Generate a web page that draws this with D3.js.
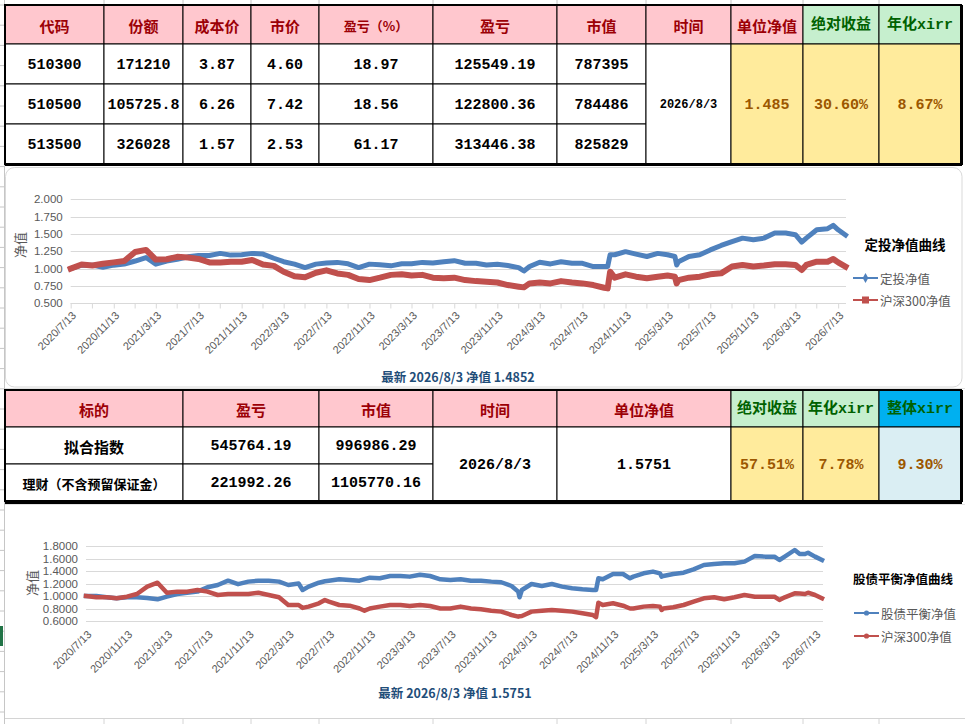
<!DOCTYPE html>
<html>
<head>
<meta charset="utf-8">
<script src="https://cdn.jsdelivr.net/npm/d3@7"></script>
<style>
  html, body { margin: 0; padding: 0; background: #fff; }
  svg { display: block; }
</style>
</head>
<body>
<div id="sheet"></div>
<script>
// ---------- table data ----------
const t1Head = ["代码", "份额", "成本价", "市价", "盈亏（%）", "盈亏", "市值", "时间", "单位净值", "绝对收益", "年化xirr"];
const t1Codes = ["510300", "510500", "513500"];
const t1Shares = ["171210", "105725.8", "326028"];
const t1Cost = ["3.87", "6.26", "1.57"];
const t1Price = ["4.60", "7.42", "2.53"];
const t1PnlPct = ["18.97", "18.56", "61.17"];
const t1Pnl = ["125549.19", "122800.36", "313446.38"];
const t1Value = ["787395", "784486", "825829"];
const t1Summary = ["1.485", "30.60%", "8.67%"];

const t2Head = ["标的", "盈亏", "市值", "时间", "单位净值", "绝对收益", "年化xirr", "整体xirr"];
const t2Names = ["拟合指数", "理财（不含预留保证金）"];
const t2Pnl = ["545764.19", "221992.26"];
const t2Value = ["996986.29", "1105770.16"];
const t2Nav = "1.5751";
const t2Summary = ["57.51%", "7.78%", "9.30%"];

const latestDate = "2026/8/3";
const latestNav1 = "1.4852";
const latestNav2 = "1.5751";

// ---------- chart data ----------
const xTickLabels = ["2020/7/13", "2020/11/13", "2021/3/13", "2021/7/13", "2021/11/13", "2022/3/13", "2022/7/13",
  "2022/11/13", "2023/3/13", "2023/7/13", "2023/11/13", "2024/3/13", "2024/7/13", "2024/11/13", "2025/3/13",
  "2025/7/13", "2025/11/13", "2026/3/13", "2026/7/13"];
const yTicks1 = [0.5, 0.75, 1.0, 1.25, 1.5, 1.75, 2.0];
const yTicks2 = [0.6, 0.8, 1.0, 1.2, 1.4, 1.6, 1.8];

const dates1 = [
  "2020/7/13", "2020/8/13", "2020/9/13", "2020/10/13", "2020/11/13", "2020/12/13",
  "2021/1/13", "2021/2/13", "2021/3/13", "2021/4/13", "2021/5/13", "2021/6/13", "2021/7/13", "2021/8/13", "2021/9/13", "2021/10/13", "2021/11/13", "2021/12/13",
  "2022/1/13", "2022/2/13", "2022/3/13", "2022/4/13", "2022/5/13", "2022/6/13", "2022/7/13", "2022/8/13", "2022/9/13", "2022/10/13", "2022/11/13", "2022/12/13",
  "2023/1/13", "2023/2/13", "2023/3/13", "2023/4/13", "2023/5/13", "2023/6/13", "2023/7/13", "2023/8/13", "2023/9/13", "2023/10/13", "2023/11/13", "2023/12/13",
  "2024/1/13", "2024/1/28", "2024/2/13", "2024/3/13", "2024/4/13", "2024/5/13", "2024/6/13", "2024/7/13", "2024/8/13", "2024/9/13", "2024/9/23", "2024/9/30", "2024/10/13", "2024/11/13", "2024/12/13",
  "2025/1/13", "2025/2/13", "2025/3/13", "2025/4/3", "2025/4/8", "2025/4/13", "2025/5/13", "2025/6/13", "2025/7/13", "2025/8/13", "2025/9/13", "2025/10/13", "2025/11/13", "2025/12/13",
  "2026/1/13", "2026/2/13", "2026/3/13", "2026/3/31", "2026/4/13", "2026/5/13", "2026/6/13", "2026/6/29", "2026/7/13", "2026/8/3"];
const dingNav1 = [
  1.00, 1.05, 1.05, 1.02, 1.05, 1.065,
  1.11, 1.16, 1.065, 1.11, 1.135, 1.17, 1.19, 1.19, 1.22, 1.195, 1.20, 1.22,
  1.21, 1.15, 1.10, 1.065, 1.015, 1.065, 1.08, 1.09, 1.07, 1.015, 1.065, 1.055,
  1.04, 1.07, 1.07, 1.09, 1.08, 1.10, 1.115, 1.077, 1.077, 1.053, 1.063, 1.044,
  1.015, 0.966, 1.03, 1.092, 1.068, 1.10, 1.077, 1.077, 1.03, 1.03, 1.03, 1.20, 1.20, 1.245, 1.21,
  1.175, 1.22, 1.20, 1.175, 1.053, 1.10, 1.175, 1.20, 1.27, 1.334, 1.39, 1.44, 1.416, 1.44,
  1.513, 1.513, 1.49, 1.382, 1.44, 1.56, 1.576, 1.624, 1.56, 1.4852];
const hs300Nav1 = [
  1.00, 1.06, 1.045, 1.07, 1.09, 1.11,
  1.24, 1.27, 1.13, 1.135, 1.17, 1.16, 1.14, 1.09, 1.09, 1.10, 1.10, 1.125,
  1.06, 1.04, 0.955, 0.89, 0.875, 0.94, 0.975, 0.93, 0.91, 0.85, 0.835, 0.87,
  0.91, 0.92, 0.90, 0.91, 0.87, 0.86, 0.87, 0.835, 0.82, 0.81, 0.80, 0.763,
  0.74, 0.73, 0.787, 0.80, 0.787, 0.82, 0.80, 0.787, 0.763, 0.724, 0.715, 0.956, 0.87, 0.918, 0.884,
  0.86, 0.884, 0.90, 0.884, 0.787, 0.835, 0.87, 0.884, 0.918, 0.932, 1.03, 1.053, 1.03, 1.044,
  1.063, 1.063, 1.053, 0.98, 1.053, 1.10, 1.10, 1.14, 1.09, 1.03];

const dates2 = [
  "2020/7/13", "2020/8/13", "2020/9/13", "2020/10/13", "2020/11/13", "2020/12/13",
  "2021/1/13", "2021/2/13", "2021/3/13", "2021/4/13", "2021/5/13", "2021/6/13", "2021/7/13", "2021/8/13", "2021/9/13", "2021/10/13", "2021/11/13", "2021/12/13",
  "2022/1/13", "2022/2/13", "2022/3/13", "2022/4/13", "2022/4/25", "2022/5/13", "2022/6/13", "2022/7/1", "2022/7/13", "2022/8/13", "2022/9/13", "2022/10/13", "2022/10/28", "2022/11/13", "2022/12/13",
  "2023/1/13", "2023/2/13", "2023/3/13", "2023/4/13", "2023/5/13", "2023/6/13", "2023/7/13", "2023/8/13", "2023/9/13", "2023/10/13", "2023/11/13", "2023/12/13",
  "2024/1/13", "2024/2/2", "2024/2/6", "2024/2/13", "2024/3/13", "2024/4/13", "2024/5/13", "2024/6/13", "2024/7/13", "2024/8/13", "2024/9/13", "2024/9/23", "2024/9/30", "2024/10/13", "2024/11/13", "2024/12/13",
  "2025/1/3", "2025/1/13", "2025/2/13", "2025/3/13", "2025/4/3", "2025/4/8", "2025/4/13", "2025/5/13", "2025/6/13", "2025/7/13", "2025/8/13", "2025/9/13", "2025/10/13", "2025/11/13", "2025/12/13",
  "2026/1/13", "2026/2/13", "2026/3/13", "2026/3/28", "2026/4/13", "2026/5/13", "2026/5/28", "2026/6/13", "2026/6/22", "2026/7/13", "2026/8/3"];
const balanceNav2 = [
  1.00, 1.00, 0.98, 0.963, 0.98, 0.98,
  0.968, 0.947, 0.99, 1.032, 1.053, 1.07, 1.14, 1.176, 1.245, 1.19, 1.23, 1.245,
  1.245, 1.23, 1.176, 1.20, 1.096, 1.15, 1.213, 1.235, 1.245, 1.267, 1.256, 1.245, 1.27, 1.293, 1.283,
  1.32, 1.32, 1.31, 1.34, 1.32, 1.267, 1.256, 1.267, 1.245, 1.245, 1.23, 1.22,
  1.16, 1.07, 0.98, 1.096, 1.192, 1.16, 1.192, 1.15, 1.123, 1.107, 1.096, 1.096, 1.283, 1.267, 1.352, 1.352,
  1.283, 1.31, 1.363, 1.39, 1.363, 1.31, 1.32, 1.352, 1.373, 1.427, 1.496, 1.512, 1.523, 1.523, 1.55,
  1.64, 1.63, 1.63, 1.576, 1.63, 1.736, 1.672, 1.672, 1.693, 1.63, 1.5751];
const hs300Nav2 = [
  1.00, 0.979, 0.979, 0.963, 0.989, 1.032,
  1.15, 1.213, 1.053, 1.07, 1.07, 1.096, 1.07, 1.016, 1.032, 1.032, 1.032, 1.053,
  1.016, 0.979, 0.856, 0.856, 0.81, 0.83, 0.883, 0.936, 0.91, 0.856, 0.845, 0.80, 0.765, 0.80, 0.83,
  0.856, 0.856, 0.84, 0.856, 0.84, 0.80, 0.80, 0.83, 0.80, 0.787, 0.765, 0.75,
  0.696, 0.67, 0.675, 0.68, 0.75, 0.765, 0.776, 0.765, 0.75, 0.723, 0.696, 0.66, 0.893, 0.856, 0.883, 0.845,
  0.80, 0.80, 0.83, 0.84, 0.83, 0.776, 0.80, 0.82, 0.856, 0.91, 0.963, 0.979, 0.947, 0.979, 1.016,
  0.989, 0.989, 0.989, 0.936, 0.979, 1.043, 1.04, 1.032, 1.053, 1.016, 0.963];

// ---------- styles ----------
const MONO = "'Liberation Mono','Noto Sans CJK SC',monospace";
const CJK = "'Noto Sans CJK SC',sans-serif";
const AXIS_FONT = "'Liberation Sans','DejaVu Sans',sans-serif";
const PINK = "#FFC7CE", PINK_TXT = "#9C0006";
const GREEN = "#C6EFCE", GREEN_TXT = "#006100";
const YELLOW = "#FFEB9C", YELLOW_TXT = "#9C5700";
const BLUE_CELL = "#DAEEF3", CYAN = "#00B0F0";
const BLUE = "#4F81BD", RED = "#C0504D";

const W = 965, H = 724;
const svg = d3.select("#sheet").append("svg").attr("width", W).attr("height", H);

// ---------- spreadsheet background ----------
const bg = svg.append("g");
const sheetCols = [104, 183, 251, 319, 433, 557, 646, 731, 803, 879];
bg.append("rect").attr("width", W).attr("height", H).attr("fill", "#fff");
bg.append("line").attr("x1", 4.5).attr("x2", 4.5).attr("y1", 0).attr("y2", H).attr("stroke", "#C6C6C6");
d3.range(5, H, 20.2).forEach(yy => {
  bg.append("line").attr("x1", 0).attr("x2", 4).attr("y1", yy).attr("y2", yy).attr("stroke", "#C6C6C6");
});
bg.append("rect").attr("x", 0).attr("y", 626).attr("width", 3).attr("height", 20).attr("fill", "#217346");
sheetCols.forEach(cx => {
  bg.append("line").attr("x1", cx).attr("x2", cx).attr("y1", 0).attr("y2", 4).attr("stroke", "#C6C6C6");
  bg.append("line").attr("x1", cx).attr("x2", cx).attr("y1", 718).attr("y2", H).attr("stroke", "#D4D4D4");
  bg.append("line").attr("x1", cx).attr("x2", cx).attr("y1", 501).attr("y2", 506).attr("stroke", "#D4D4D4");
});
bg.append("line").attr("x1", 5).attr("x2", W).attr("y1", 718.5).attr("y2", 718.5).attr("stroke", "#D4D4D4");
bg.append("line").attr("x1", 5).attr("x2", W).attr("y1", 504.5).attr("y2", 504.5).attr("stroke", "#E2E2E2");
bg.append("line").attr("x1", 5).attr("x2", W).attr("y1", 388.5).attr("y2", 388.5).attr("stroke", "#E2E2E2");

// ---------- table helpers ----------
function cell(g, x0, y0, x1, y1, fill, txt, font, size, color) {
  g.append("rect")
    .attr("x", x0).attr("y", y0).attr("width", x1 - x0).attr("height", y1 - y0)
    .attr("fill", fill).attr("stroke", "#000").attr("stroke-width", 1);
  if (txt !== undefined) {
    g.append("text")
      .attr("x", (x0 + x1) / 2).attr("y", (y0 + y1) / 2 + 1)
      .attr("text-anchor", "middle").attr("dominant-baseline", "central")
      .style("font-family", font).style("font-size", size + "px")
      .style("font-weight", "bold").style("fill", color)
      .text(txt);
  }
}

function frame(g, x0, y0, x1, y1, bottomW) {
  g.append("rect").attr("x", x0).attr("y", y0).attr("width", x1 - x0).attr("height", y1 - y0)
    .attr("fill", "none").attr("stroke", "#000").attr("stroke-width", 2);
  g.append("line").attr("x1", x0).attr("x2", x1 + 1).attr("y1", y1 + bottomW / 2 - 1).attr("y2", y1 + bottomW / 2 - 1)
    .attr("stroke", "#000").attr("stroke-width", bottomW);
  g.append("line").attr("x1", x1 + 0.5).attr("x2", x1 + 0.5).attr("y1", y0).attr("y2", y1 + 1)
    .attr("stroke", "#000").attr("stroke-width", 3);
}

// ---------- table 1 ----------
const t1 = svg.append("g");
const c1 = [5, 104, 183, 251, 319, 433, 557, 646, 731, 803, 879, 961];
const r1 = [5, 44, 84, 124, 164];
t1Head.forEach((h, i) => {
  const green = i >= 9;
  const small = h === "盈亏（%）";
  cell(t1, c1[i], r1[0], c1[i + 1], r1[1], green ? GREEN : PINK, h, green ? MONO : CJK,
    small ? 13 : 15, green ? GREEN_TXT : PINK_TXT);
});
const t1Cols = [t1Codes, t1Shares, t1Cost, t1Price, t1PnlPct, t1Pnl, t1Value];
t1Cols.forEach((col, ci) => {
  col.forEach((v, ri) => {
    cell(t1, c1[ci], r1[ri + 1], c1[ci + 1], r1[ri + 2], "#fff", v, MONO, 15, "#000");
  });
});
cell(t1, c1[7], r1[1], c1[8], r1[4], "#fff", latestDate, MONO, 12, "#000");
t1Summary.forEach((v, i) => {
  cell(t1, c1[8 + i], r1[1], c1[9 + i], r1[4], YELLOW, v, MONO, 15, YELLOW_TXT);
});
frame(t1, 5, 5, 961, 164, 3);

// ---------- table 2 ----------
const t2 = svg.append("g");
const c2 = [5, 183, 319, 433, 557, 731, 803, 879, 961];
const r2 = [390, 427, 464, 501];
t2Head.forEach((h, i) => {
  let fill = PINK, col = PINK_TXT, font = CJK;
  if (i === 5 || i === 6) { fill = GREEN; col = GREEN_TXT; font = MONO; }
  if (i === 7) { fill = CYAN; col = GREEN_TXT; font = MONO; }
  cell(t2, c2[i], r2[0], c2[i + 1], r2[1], fill, h, font, 15, col);
});
t2Names.forEach((n, ri) => {
  cell(t2, c2[0], r2[ri + 1], c2[1], r2[ri + 2], "#fff", n, CJK, ri === 0 ? 15 : 13, "#000");
});
[t2Pnl, t2Value].forEach((col, ci) => {
  col.forEach((v, ri) => {
    cell(t2, c2[ci + 1], r2[ri + 1], c2[ci + 2], r2[ri + 2], "#fff", v, MONO, 15, "#000");
  });
});
cell(t2, c2[3], r2[1], c2[4], r2[3], "#fff", latestDate, MONO, 15, "#000");
cell(t2, c2[4], r2[1], c2[5], r2[3], "#fff", t2Nav, MONO, 15, "#000");
t2Summary.forEach((v, i) => {
  cell(t2, c2[5 + i], r2[1], c2[6 + i], r2[3], i === 2 ? BLUE_CELL : YELLOW, v, MONO, 15, YELLOW_TXT);
});
frame(t2, 5, 390, 961, 501, 4);

// ---------- charts ----------
const parse = d3.timeParse("%Y/%m/%d");
const fmtTick = d3.timeFormat("%Y/%-m/%-d");

function drawChart(o) {
  const g = svg.append("g");
  if (o.box) {
    g.append("rect").attr("x", o.box[0]).attr("y", o.box[1])
      .attr("width", o.box[2] - o.box[0]).attr("height", o.box[3] - o.box[1])
      .attr("rx", 9).attr("fill", "#fff").attr("stroke", "#D9D9D9").attr("stroke-width", 1);
  } else {
    g.append("rect").attr("x", 5).attr("y", 505).attr("width", 957).attr("height", 212).attr("fill", "#fff");
  }
  const dts = o.dates.map(parse);
  const x = d3.scaleTime().domain([dts[0], dts[dts.length - 1]]).range(o.xRange);
  const y = d3.scaleLinear().domain(o.yDomain).range(o.yRange);

  // gridlines
  g.selectAll(null).data(o.yTicks).enter().append("line")
    .attr("x1", o.xRange[0]).attr("x2", o.gridEnd)
    .attr("y1", d => Math.round(y(d)) + 0.5).attr("y2", d => Math.round(y(d)) + 0.5)
    .attr("stroke", "#D9D9D9").attr("stroke-width", 1);

  // y labels
  g.selectAll(null).data(o.yTicks).enter().append("text")
    .attr("x", o.xRange[0] - 8).attr("y", d => y(d)).attr("dy", "0.36em")
    .attr("text-anchor", "end")
    .style("font-family", AXIS_FONT).style("font-size", "11.5px").style("fill", "#595959")
    .text(d => d3.format(o.yFmt)(d));

  // x axis
  const labelDates = xTickLabels.map(parse);
  const ax = g.append("g").attr("transform", `translate(0,${Math.round(y(o.yDomain[0])) + 0.5})`)
    .call(d3.axisBottom(x).tickValues(labelDates).tickFormat(fmtTick)
      .tickSize(o.tickSize).tickSizeOuter(0).tickPadding(0));
  ax.select(".domain").remove();
  ax.selectAll(".tick line").attr("stroke", "#D9D9D9");
  ax.selectAll(".tick text")
    .attr("x", 3).attr("y", o.labelOffset).attr("dy", "0.35em")
    .attr("text-anchor", "end")
    .attr("transform", `rotate(-45 3 ${o.labelOffset})`)
    .style("font-family", AXIS_FONT).style("font-size", "11px").style("fill", "#595959");
  if (o.tickSize > 0) {
    ax.append("line").attr("x1", o.xRange[0]).attr("x2", o.gridEnd).attr("stroke", "#D9D9D9");
    const minor = labelDates.slice(0, -1).map(d => d3.timeMonth.offset(d, 2));
    ax.selectAll(".minor").data(minor).enter().append("line")
      .attr("class", "minor").attr("x1", d => x(d)).attr("x2", d => x(d))
      .attr("y1", 0).attr("y2", o.tickSize).attr("stroke", "#D9D9D9");
  }

  // series
  o.series.forEach(s => {
    const pts = dts.map((d, i) => ({ date: d, v: s.values[i] }));
    g.append("path").datum(pts)
      .attr("fill", "none").attr("stroke", s.color).attr("stroke-width", s.width)
      .attr("stroke-linejoin", "round").attr("stroke-linecap", "square")
      .attr("d", d3.line().x(d => x(d.date)).y(d => y(d.v)));
  });

  // y title
  g.append("text")
    .attr("transform", `translate(${o.yTitle[0]},${o.yTitle[1]}) rotate(-90)`)
    .attr("text-anchor", "middle").attr("dominant-baseline", "central")
    .style("font-family", CJK).style("font-size", "13px").style("fill", "#595959")
    .text("净值");

  // title
  g.append("text").attr("x", o.title[0]).attr("y", o.title[1])
    .attr("text-anchor", "middle").attr("dominant-baseline", "central")
    .style("font-family", CJK).style("font-size", o.titleSize + "px").style("font-weight", "bold")
    .style("fill", "#000").text(o.titleText);

  // legend
  o.series.forEach((s, i) => {
    const ly = o.legendY[i];
    const [lx0, lx1] = o.legendX;
    const mx = (lx0 + lx1) / 2;
    g.append("line").attr("x1", lx0).attr("x2", lx1).attr("y1", ly).attr("y2", ly)
      .attr("stroke", s.color).attr("stroke-width", 2);
    if (s.marker === "diamond") {
      g.append("path").attr("d", d3.symbol(d3.symbolDiamond, 28)()).attr("transform", `translate(${mx},${ly})`).attr("fill", s.color);
    } else if (s.marker === "square") {
      g.append("rect").attr("x", mx - 3.5).attr("y", ly - 3.5).attr("width", 7).attr("height", 7).attr("fill", s.color);
    } else {
      g.append("circle").attr("cx", mx).attr("cy", ly).attr("r", 2.6).attr("fill", s.color);
    }
    g.append("text").attr("x", lx1 + 2).attr("y", ly).attr("dominant-baseline", "central")
      .style("font-family", CJK).style("font-size", "12.5px").style("fill", "#595959")
      .text(s.name);
  });

  // note
  g.append("text").attr("x", o.note[0]).attr("y", o.note[1])
    .attr("text-anchor", "middle").attr("dominant-baseline", "central")
    .style("font-family", CJK).style("font-size", "12.5px").style("font-weight", "bold")
    .style("fill", "#1F4E79")
    .text(o.noteText);
}

drawChart({
  box: [5.5, 167.5, 962, 387],
  dates: dates1,
  xRange: [70.7, 845.5], gridEnd: 846,
  yDomain: [0.5, 2.0], yRange: [303.3, 199.3],
  yTicks: yTicks1, yFmt: ".3f",
  tickSize: 5, labelOffset: 10,
  series: [
    { name: "定投净值", values: dingNav1, color: BLUE, width: 5, marker: "diamond" },
    { name: "沪深300净值", values: hs300Nav1, color: RED, width: 6, marker: "square" }
  ],
  yTitle: [19, 245],
  title: [905, 244], titleSize: 13.5, titleText: "定投净值曲线",
  legendX: [853, 878], legendY: [278, 300],
  note: [458, 376], noteText: `最新 ${latestDate}  净值 ${latestNav1}`
});

drawChart({
  box: null,
  dates: dates2,
  xRange: [86, 822], gridEnd: 823,
  yDomain: [0.6, 1.8], yRange: [621, 546],
  yTicks: yTicks2, yFmt: ".4f",
  tickSize: 0, labelOffset: 11,
  series: [
    { name: "股债平衡净值", values: balanceNav2, color: BLUE, width: 4.5, marker: "circle" },
    { name: "沪深300净值", values: hs300Nav2, color: RED, width: 4.5, marker: "circle" }
  ],
  yTitle: [31, 583],
  title: [903, 578], titleSize: 12.5, titleText: "股债平衡净值曲线",
  legendX: [854, 879], legendY: [613, 636],
  note: [455, 692], noteText: `最新 ${latestDate}  净值 ${latestNav2}`
});
</script>
</body>
</html>
